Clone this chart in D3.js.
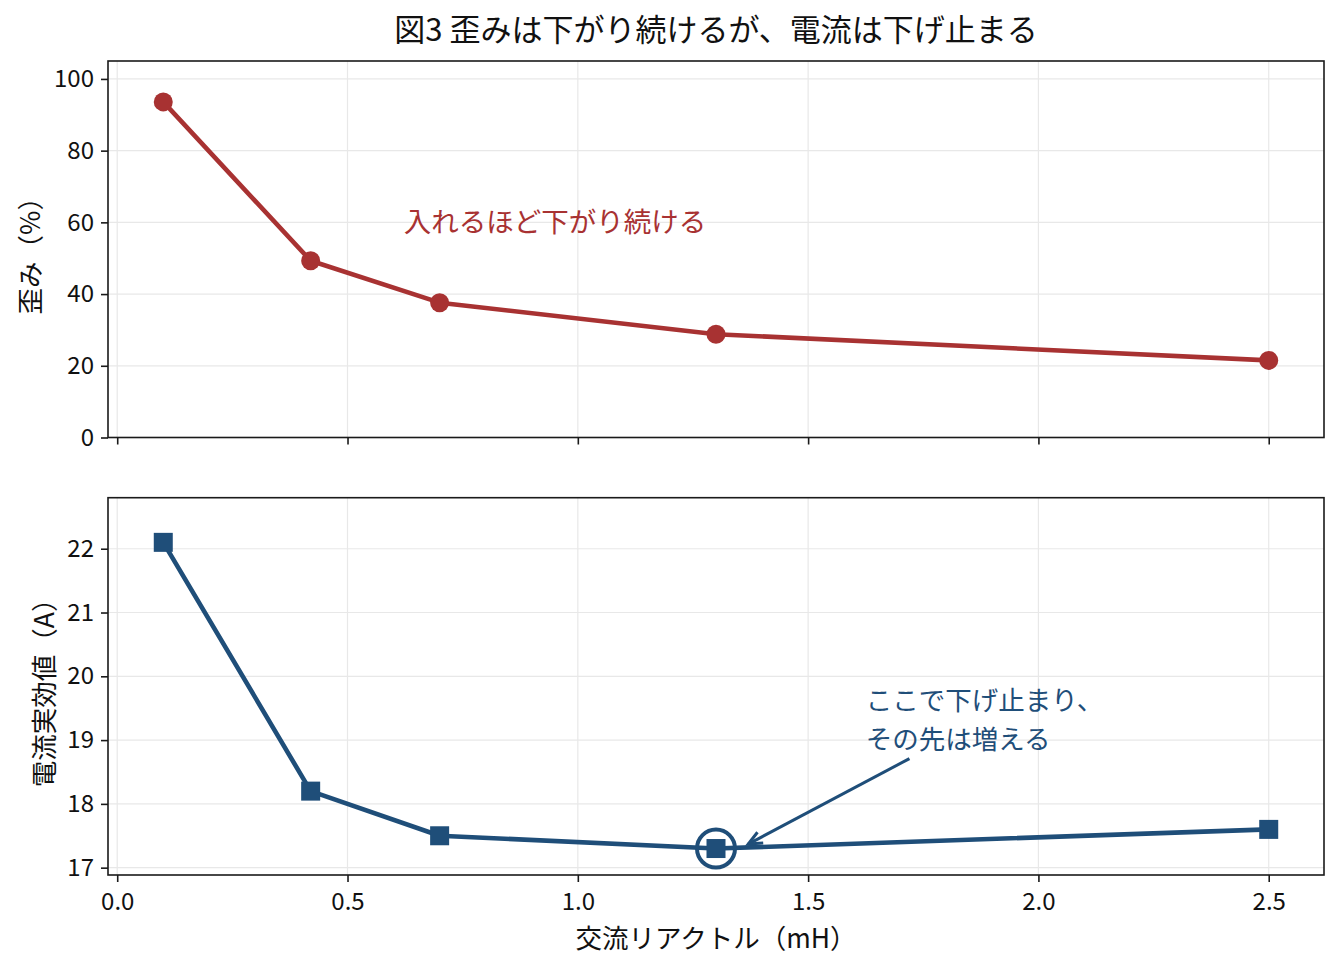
<!DOCTYPE html>
<html>
<head>
<meta charset="utf-8">
<script src="https://cdn.jsdelivr.net/npm/d3@7"></script>
<style>
  body { margin: 0; background: #fff; }
  svg { display: block; font-family: "Noto Sans CJK JP", "Noto Sans", sans-serif; }
</style>
</head>
<body>
<svg id="chart" width="1339" height="968"></svg>
<script>
// data
var reactance = [0.1, 0.42, 0.7, 1.3, 2.5];          // mH
var distortion = [93.6, 49.3, 37.6, 28.8, 21.5];     // %
var currentRms = [22.1, 18.2, 17.5, 17.3, 17.6];     // A
var xTicks = [0.0, 0.5, 1.0, 1.5, 2.0, 2.5];
var topTicks = [0, 20, 40, 60, 80, 100];
var bottomTicks = [17, 18, 19, 20, 21, 22];
var minIndex = 3;

var red = "#a83232", blue = "#1f4e79";

var svg = d3.select("#chart");
var left = 108, right = 1324;
var top1 = 61, bot1 = 437.5, top2 = 497.7, bot2 = 875;

var x = d3.scaleLinear().domain([-0.02, 2.62]).range([left, right]);
var y1 = d3.scaleLinear().domain([0, 105]).range([bot1, top1]);
var y2 = d3.scaleLinear().domain([16.885, 22.8]).range([bot2, top2]);

// title
svg.append("text")
  .attr("x", (left + right) / 2).attr("y", 27)
  .attr("text-anchor", "middle").attr("dominant-baseline", "central")
  .style("font-size", "31px").style("fill", "#111")
  .text("図3 歪みは下がり続けるが、電流は下げ止まる");

function panel(y, yTicks, top, bot, showX) {
  var g = svg.append("g");
  // grid
  g.append("g").selectAll("line").data(xTicks).enter().append("line")
    .attr("x1", function (d) { return x(d); }).attr("x2", function (d) { return x(d); })
    .attr("y1", top).attr("y2", bot)
    .attr("stroke", "#e8e8e8").attr("stroke-width", 1.2);
  g.append("g").selectAll("line").data(yTicks).enter().append("line")
    .attr("x1", left).attr("x2", right)
    .attr("y1", function (d) { return y(d); }).attr("y2", function (d) { return y(d); })
    .attr("stroke", "#e8e8e8").attr("stroke-width", 1.2);

  // axes
  var ax = g.append("g").attr("transform", "translate(0," + bot + ")")
    .call(d3.axisBottom(x).tickValues(xTicks).tickSize(7).tickPadding(11)
      .tickFormat(showX ? d3.format(".1f") : function () { return ""; }));
  var ay = g.append("g").attr("transform", "translate(" + left + ",0)")
    .call(d3.axisLeft(y).tickValues(yTicks).tickSize(7).tickPadding(7).tickFormat(d3.format("d")));
  [ax, ay].forEach(function (a) {
    a.select(".domain").remove();
    a.selectAll("line").attr("stroke", "#1a1a1a").attr("stroke-width", 1.6);
    a.selectAll("text").style("font-size", "24px").style("fill", "#111")
      .style("font-family", "'Noto Sans CJK JP', sans-serif");
  });
  // frame
  g.append("rect").attr("x", left).attr("y", top)
    .attr("width", right - left).attr("height", bot - top)
    .attr("fill", "none").attr("stroke", "#1a1a1a").attr("stroke-width", 1.6);
  return g;
}

var g1 = panel(y1, topTicks, top1, bot1, false);
var g2 = panel(y2, bottomTicks, top2, bot2, true);

// top series
var line1 = d3.line().x(function (d, i) { return x(reactance[i]); }).y(function (d) { return y1(d); });
g1.append("path").datum(distortion).attr("d", line1)
  .attr("fill", "none").attr("stroke", red).attr("stroke-width", 4.6).attr("stroke-linejoin", "round");
g1.selectAll("circle.pt").data(distortion).enter().append("circle").attr("class", "pt")
  .attr("cx", function (d, i) { return x(reactance[i]); }).attr("cy", function (d) { return y1(d); })
  .attr("r", 9.5).attr("fill", red);

// bottom series
var line2 = d3.line().x(function (d, i) { return x(reactance[i]); }).y(function (d) { return y2(d); });
g2.append("path").datum(currentRms).attr("d", line2)
  .attr("fill", "none").attr("stroke", blue).attr("stroke-width", 4.6).attr("stroke-linejoin", "round");
var sq = 19;
g2.selectAll("rect.pt").data(currentRms).enter().append("rect").attr("class", "pt")
  .attr("x", function (d, i) { return x(reactance[i]) - sq / 2; })
  .attr("y", function (d) { return y2(d) - sq / 2; })
  .attr("width", sq).attr("height", sq).attr("fill", blue);

// highlight ring at the minimum
g2.append("circle")
  .attr("cx", x(reactance[minIndex])).attr("cy", y2(currentRms[minIndex]))
  .attr("r", 19).attr("fill", "none").attr("stroke", blue).attr("stroke-width", 4);

// annotations
svg.append("text")
  .attr("x", x(0.622)).attr("y", y1(60.7))
  .attr("dominant-baseline", "central")
  .style("font-size", "27.5px").style("fill", red)
  .text("入れるほど下がり続ける");

var noteX = x(1.625), noteY = y2(19.35);
var note = svg.append("text").style("font-size", "26.5px").style("fill", blue);
note.append("tspan").attr("x", noteX).attr("y", noteY - 19.5).attr("dominant-baseline", "central").text("ここで下げ止まり、");
note.append("tspan").attr("x", noteX).attr("y", noteY + 19.5).attr("dominant-baseline", "central").text("その先は増える");

// arrow
var ax0 = x(1.72), ay0 = y2(18.71), ax1 = x(1.37), ay1 = y2(17.37);
svg.append("line").attr("x1", ax0).attr("y1", ay0).attr("x2", ax1).attr("y2", ay1)
  .attr("stroke", blue).attr("stroke-width", 3);
var ang = Math.atan2(ay0 - ay1, ax0 - ax1), hl = 15, hw = 0.42;
svg.append("path")
  .attr("d", "M" + (ax1 + hl * Math.cos(ang + hw)) + "," + (ay1 + hl * Math.sin(ang + hw)) +
    " L" + ax1 + "," + ay1 +
    " L" + (ax1 + hl * Math.cos(ang - hw)) + "," + (ay1 + hl * Math.sin(ang - hw)))
  .attr("fill", "none").attr("stroke", blue).attr("stroke-width", 3);

// axis labels
svg.append("text")
  .attr("transform", "translate(28," + (top1 + bot1) / 2 + ") rotate(-90)")
  .attr("text-anchor", "middle").attr("dominant-baseline", "central")
  .style("font-size", "26.5px").style("fill", "#111")
  .text("歪み（%）");
svg.append("text")
  .attr("transform", "translate(42," + (top2 + bot2) / 2 + ") rotate(-90)")
  .attr("text-anchor", "middle").attr("dominant-baseline", "central")
  .style("font-size", "26.5px").style("fill", "#111")
  .text("電流実効値（A）");
svg.append("text")
  .attr("x", (left + right) / 2).attr("y", 936)
  .attr("text-anchor", "middle").attr("dominant-baseline", "central")
  .style("font-size", "26.5px").style("fill", "#111")
  .text("交流リアクトル（mH）");
</script>
</body>
</html>
